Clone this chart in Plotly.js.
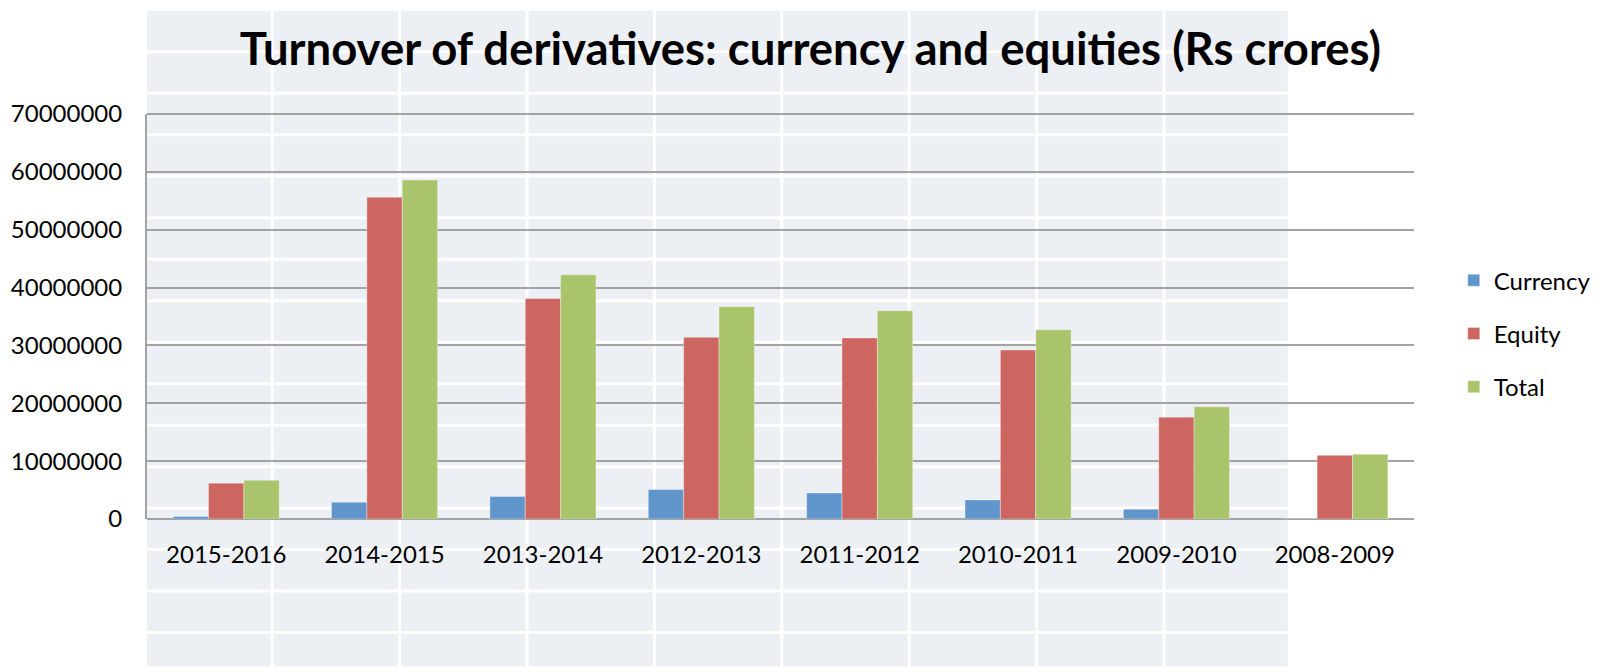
<!DOCTYPE html>
<html>
<head>
<meta charset="utf-8">
<script src="https://cdn.plot.ly/plotly-3.0.1.min.js"></script>
<style>
  body { margin: 0; background: #fff; }
  #plot { width: 1608px; height: 667px; }
</style>
</head>
<body>
<div id="plot"></div>
<script>
  // Data (Rs crores)
  var years = ["2015-2016", "2014-2015", "2013-2014", "2012-2013", "2011-2012", "2010-2011", "2009-2010", "2008-2009"];
  var currency = [450000, 2900000, 3900000, 5100000, 4500000, 3300000, 1700000, 0];
  var equity = [6200000, 55600000, 38100000, 31400000, 31300000, 29200000, 17600000, 11000000];
  var total = [6700000, 58600000, 42200000, 36700000, 36000000, 32700000, 19400000, 11200000];

  var font = "Lato, 'Open Sans', sans-serif";

  function bars(name, y, color) {
    return {
      x: years,
      y: y,
      name: name,
      type: "bar",
      legendgroup: name,
      marker: { color: color, line: { color: "rgba(255,255,255,0.35)", width: 1 } },
      hoverinfo: "x+y+name"
    };
  }

  var data = [
    bars("Currency", currency, "#6196cc"),
    bars("Equity", equity, "#cd6660"),
    bars("Total", total, "#a9c46b")
  ];

  // spreadsheet cell grid behind the chart (pixel positions -> paper coords)
  var L = 147, R = 1422, T = 113.5, B = 519.5;
  function px(v) { return (v - L) / (R - L); }
  function py(v) { return (B - v) / (B - T); }

  var shapes = [{
    type: "rect", xref: "paper", yref: "paper", layer: "below",
    x0: px(147), x1: px(1295), y0: py(10), y1: py(667),
    fillcolor: "#eceff4", line: { width: 0 }
  }];
  for (var cx = 273; cx < 1295; cx += 128.2) {
    shapes.push({ type: "line", xref: "paper", yref: "paper", layer: "below",
      x0: px(cx), x1: px(cx), y0: py(10), y1: py(667), line: { color: "#ffffff", width: 3 } });
  }
  for (var ry = 51; ry < 667; ry += 41.6) {
    shapes.push({ type: "line", xref: "paper", yref: "paper", layer: "below",
      x0: px(147), x1: px(1295), y0: py(ry), y1: py(ry), line: { color: "#ffffff", width: 3 } });
  }
  // top gridline at the range edge
  shapes.push({ type: "line", xref: "paper", yref: "paper", layer: "below",
    x0: 0, x1: 1, y0: 1, y1: 1, line: { color: "#a3a3a3", width: 2 } });

  var layout = {
    width: 1608,
    height: 667,
    font: { family: font, color: "#000000", size: 24 },
    title: {
      text: "<b>Turnover of derivatives: currency and equities (Rs crores)</b>",
      font: { family: font, size: 45.5, color: "#000000" },
      x: 0.504, xref: "container", xanchor: "center",
      y: 1 - 49 / 667, yref: "container", yanchor: "middle"
    },
    barmode: "group",
    bargap: 0.33,
    bargroupgap: 0,
    paper_bgcolor: "#ffffff",
    plot_bgcolor: "rgba(0,0,0,0)",
    margin: { l: L, r: 1608 - R, t: T, b: 667 - B, pad: 0 },
    xaxis: {
      showgrid: false,
      showline: false,
      ticks: "",
      ticklabelstandoff: 19,
      tickfont: { family: font, size: 24 }
    },
    yaxis: {
      range: [0, 70000000],
      dtick: 10000000,
      tickformat: "d",
      showgrid: true,
      gridcolor: "#a3a3a3",
      gridwidth: 2,
      zeroline: true,
      zerolinecolor: "#a3a3a3",
      zerolinewidth: 2,
      showline: true,
      linecolor: "#a3a3a3",
      linewidth: 2,
      ticks: "",
      ticklabelstandoff: 18,
      tickfont: { family: font, size: 24 }
    },
    legend: {
      x: px(1462), xanchor: "left",
      y: py(258), yanchor: "top",
      traceorder: "grouped",
      tracegroupgap: 19,
      font: { family: font, size: 24 },
      bgcolor: "rgba(0,0,0,0)"
    },
    shapes: shapes,
    showlegend: true
  };

  Plotly.newPlot("plot", data, layout, { displayModeBar: false });
</script>
</body>
</html>
